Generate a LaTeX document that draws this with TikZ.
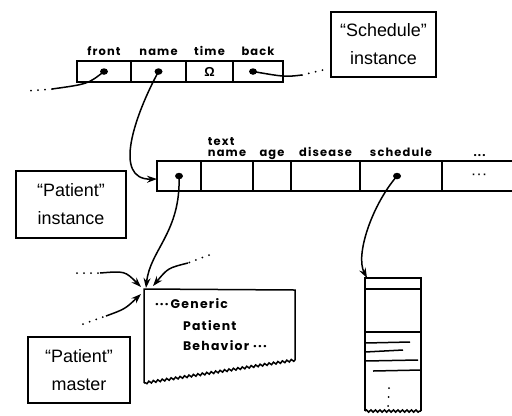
\documentclass[tikz,border=0pt]{standalone}
\usepackage{fontspec}
\setmainfont{Liberation Sans}
\newfontfamily\fieldfont[LetterSpace=10]{Poppins}
\usetikzlibrary{positioning}
\usetikzlibrary{arrows.meta}
\usetikzlibrary{shapes.geometric}
\usetikzlibrary{decorations.pathmorphing}

\begin{document}
\begin{tikzpicture}
  [x=1bp,y=-1bp,
   every node/.style={inner sep=0pt,outer sep=0pt},
   cell/.style={draw,line width=1.5bp,minimum height=21bp},
   pcell/.style={cell,minimum height=30bp},
   tag/.style={font=\fieldfont\bfseries\fontsize{11.5}{11.5}\selectfont,text height=9bp,text depth=2bp},
   generic/.style={font=\fieldfont\bfseries\fontsize{12.5}{12.5}\selectfont,anchor=base west},
   boxlabel/.style={draw,line width=1.1bp,align=center,font=\fontsize{18}{28}\selectfont},
   dot/.style={ellipse,fill,minimum width=8bp,minimum height=6.5bp},
   connect/.style={line width=1.5bp},
   ptr/.style={connect,-{Stealth[length=10bp,width=7bp]}},
   more/.style={line width=2bp,line cap=round,dash pattern=on 0pt off 7bp},
   wavy/.style={decorate,decoration={snake,amplitude=1.1bp,segment length=4.5bp}}]
  \clip (0,0) rectangle (512,415);

  % "Schedule" instance
  \node (sfront) [cell,minimum width=54bp] at (104,71.5) {};
  \node (sname) [cell,minimum width=55bp,right=0 of sfront] {};
  \node (stime) [cell,minimum width=47bp,right=0 of sname] {};
  \node (sback) [cell,minimum width=50bp,right=0 of stime] {};
  \node [tag,above=4bp of sfront] {front};
  \node [tag,above=4bp of sname] {name};
  \node [tag,above=4bp of stime] {time};
  \node [tag,above=4bp of sback] {back};
  \node (dfront) [dot] at (sfront.center) {};
  \node (dname) [dot] at (sname.center) {};
  \node (omega) [font=\bfseries\fontsize{13}{13}\selectfont] at (stime.center) {Ω};
  \node (dback) [dot] at ([xshift=-5bp]sback.center) {};
  \node (schedbox) [boxlabel,minimum width=105bp,minimum height=65bp] at (383.5,44.5) {“Schedule”\\instance};

  \coordinate (frontmid) at (52,89);
  \coordinate (frontend) at (27,91);
  \draw [connect] (dfront.center) .. controls (88,84) .. (frontmid);
  \draw [more] (frontmid) -- (frontend);
  \coordinate (backmid) at (302,75);
  \coordinate (backend) at (327,69);
  \draw [connect] (dback.center) .. controls (285,77) .. (backmid);
  \draw [more] (backmid) -- (backend);

  % "Patient" instance
  \node (pmaster) [pcell,minimum width=44bp] at (179,176) {};
  \node (ptext) [pcell,minimum width=52bp,right=0 of pmaster] {};
  \node (page) [pcell,minimum width=38bp,right=0 of ptext] {};
  \node (pdisease) [pcell,minimum width=69bp,right=0 of page] {};
  \node (pschedule) [pcell,minimum width=82bp,right=0 of pdisease] {};
  \node (pmore) [pcell,minimum width=75bp,right=0 of pschedule] {};
  \node (lname) [tag,above=3bp of ptext] {name};
  \node [tag,above=0bp of lname.north west,anchor=south west] {text};
  \node [tag,above=3bp of page] {age};
  \node [tag,above=3bp of pdisease] {disease};
  \node [tag,above=3bp of pschedule] {schedule};
  \node [tag,above=3bp of pmore] {...};
  \node (dmaster) [dot] at (pmaster.center) {};
  \node (dsched) [dot] at ([xshift=-4bp]pschedule.center) {};
  \node [font=\bfseries\fontsize{11}{11}\selectfont] at (pmore.center) {·\,·\,·};
  \node (pinst) [boxlabel,minimum width=110bp,minimum height=67bp] at (71,204.5) {“Patient”\\instance};

  \draw [ptr] (dname.center) .. controls (135,115) and (112,180) .. ([yshift=-3bp]pmaster.west);

  % "Patient" master
  \coordinate (gcorner) at (146,288);
  \draw [connect] (144,383) -- (144,289) -- (295,290) -- (295,360);
  \draw [connect,wavy] (295,360) -- (144,383);
  \node [generic] at (155,308) {···\,Generic};
  \node [generic] at (183,330) {Patient};
  \node [generic] at (183,350) {Behavior ···};
  \node (mastbox) [boxlabel,minimum width=102bp,minimum height=66bp] at (79,370) {“Patient”\\master};

  \draw [ptr] (dmaster.center) .. controls (181,232) and (150,250) .. (gcorner);
  \coordinate (upmid) at (188,263);
  \coordinate (upend) at (209,255);
  \draw [more] (upend) -- (upmid);
  \draw [ptr] (upmid) .. controls (168,268) .. (153,286);
  \coordinate (leftmid) at (100,273);
  \coordinate (leftend) at (77,273);
  \draw [more] (leftend) -- (leftmid);
  \draw [ptr] (leftmid) .. controls (125,271) .. (141,287);
  \coordinate (lowmid) at (106,316);
  \coordinate (lowend) at (83,324);
  \draw [more] (lowend) -- (lowmid);
  \draw [ptr] (lowmid) .. controls (125,309) .. (141,294);

  % schedule list
  \coordinate (colcorner) at (367,278);
  \draw [ptr] (dsched.center) .. controls (372,205) and (355,255) .. (colcorner);
  \draw [connect] (365,411) -- (365,278) -- (421,278) -- (421,411);
  \draw [connect,wavy] (365,411) -- (421,411);
  \draw [connect] (365,289) -- (421,289);
  \draw [connect] (365,332) -- (421,332);
  \draw [connect] (365,343) -- (410,342);
  \draw [connect] (365,352) -- (403,350);
  \draw [connect] (365,361) -- (418,360);
  \draw [connect] (373,371) -- (421,370);
  \draw [more,dash pattern=on 0pt off 9bp] (389,388) -- (388,407);
\end{tikzpicture}
\end{document}
